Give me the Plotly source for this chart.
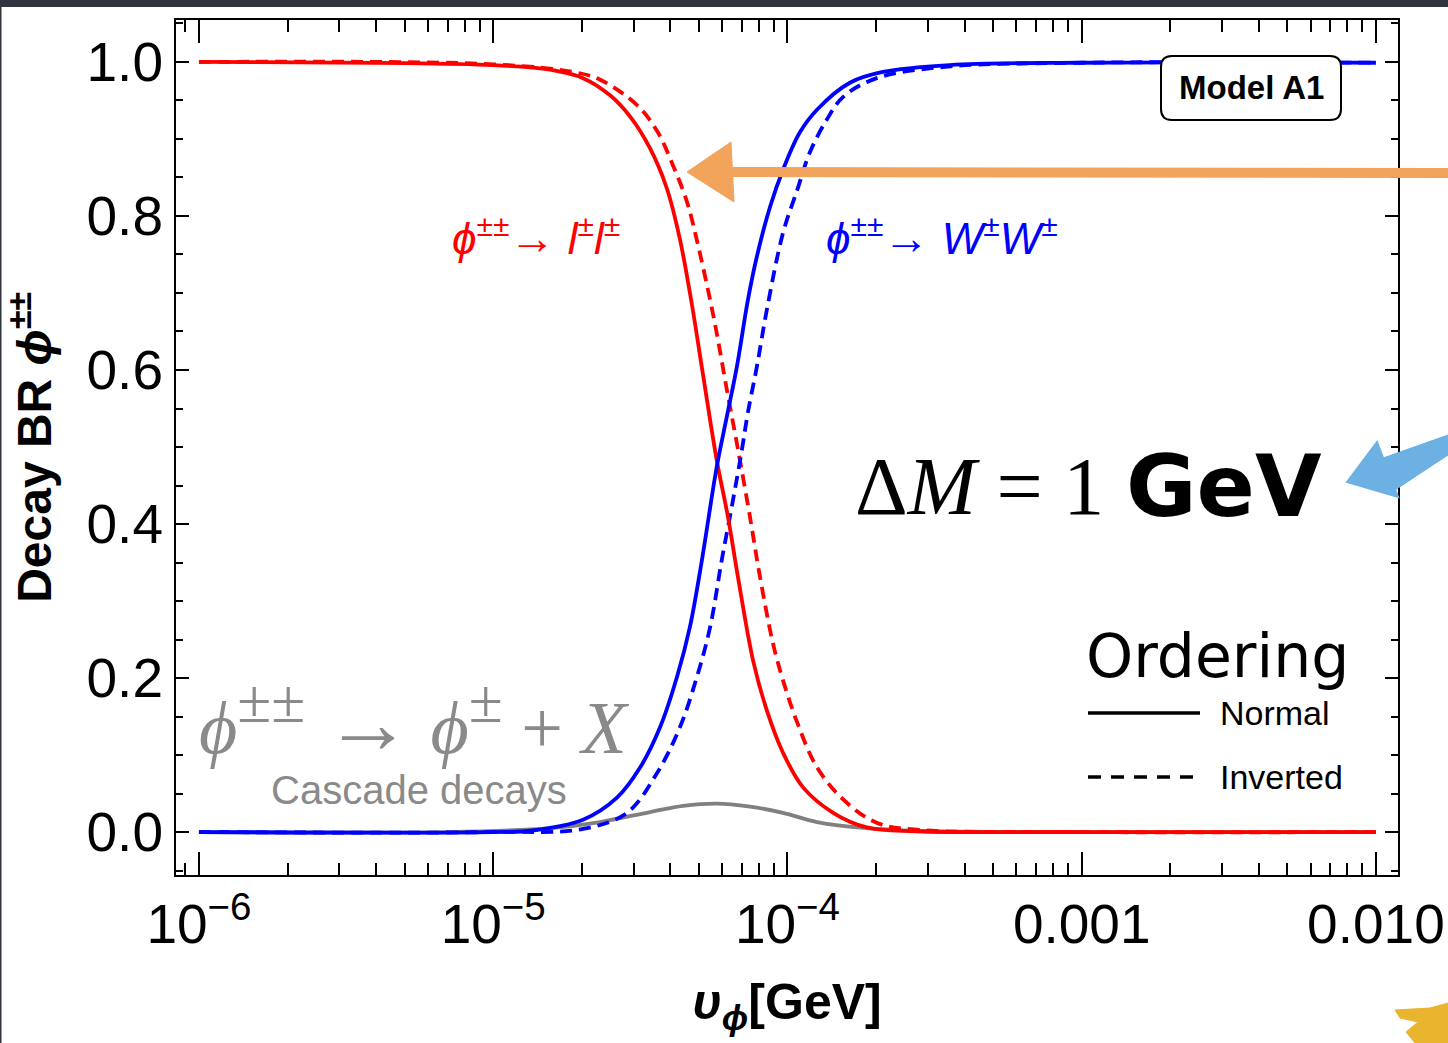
import plotly.graph_objects as go

# ---------------- data ----------------
v_ll_normal = [1e-6, 1e-5, 1.56e-5, 2.02e-5, 2.49e-5, 2.92e-5, 3.41e-5, 3.89e-5, 4.31e-5, 4.73e-5,
               5.16e-5, 5.75e-5, 6.28e-5, 6.79e-5, 7.64e-5, 8.51e-5, 9.66e-5, 1.13e-4,
               1.43e-4, 1.86e-4, 2.75e-4, 1e-3, 1e-2]
br_ll_normal = [1.0, 0.996, 0.99, 0.979, 0.957, 0.929, 0.888, 0.836, 0.77, 0.686,
                0.595, 0.483, 0.409, 0.331, 0.223, 0.158, 0.103, 0.058,
                0.025, 0.006, 0.001, 0.0, 0.0]

v_ll_inverted = [1e-6, 1e-5, 1.87e-5, 2.31e-5, 3.08e-5, 3.61e-5, 4.08e-5, 4.55e-5, 4.92e-5, 5.46e-5,
                 5.75e-5, 6.22e-5, 6.79e-5, 7.46e-5, 8.07e-5, 8.93e-5, 9.66e-5, 1.08e-4,
                 1.26e-4, 1.55e-4, 2.01e-4, 2.75e-4, 1e-3, 1e-2]
br_ll_inverted = [1.0, 0.997, 0.987, 0.977, 0.944, 0.910, 0.866, 0.819, 0.769, 0.691,
                  0.648, 0.575, 0.497, 0.409, 0.331, 0.245, 0.197, 0.142,
                  0.084, 0.042, 0.012, 0.003, 0.0, 0.0]

v_ww_normal = [1e-6, 1e-5, 1.36e-5, 2.02e-5, 2.64e-5, 3.16e-5, 3.69e-5, 4.21e-5, 4.66e-5, 5.12e-5,
               5.75e-5, 6.22e-5, 6.73e-5, 7.34e-5, 7.87e-5, 8.73e-5, 9.66e-5, 1.10e-4,
               1.26e-4, 1.63e-4, 2.11e-4, 3.56e-4, 1e-3, 1e-2]
br_ww_normal = [0.0, 0.0, 0.002, 0.016, 0.045, 0.084, 0.136, 0.201, 0.266, 0.353,
                0.474, 0.539, 0.604, 0.691, 0.747, 0.812, 0.860, 0.908,
                0.938, 0.973, 0.987, 0.996, 0.999, 0.999]

v_ww_inverted = [1e-6, 1e-5, 2.02e-5, 2.85e-5, 3.61e-5, 4.31e-5, 4.92e-5, 5.46e-5, 5.98e-5, 6.53e-5,
                 7.00e-5, 7.34e-5, 7.87e-5, 8.51e-5, 9.66e-5, 1.08e-4, 1.19e-4, 1.36e-4,
                 1.55e-4, 2.01e-4, 3.5e-4, 1e-3, 1e-2]
br_ww_inverted = [0.0, 0.0, 0.004, 0.025, 0.077, 0.136, 0.201, 0.266, 0.353, 0.431,
                  0.496, 0.545, 0.604, 0.678, 0.778, 0.834, 0.882, 0.925,
                  0.955, 0.979, 0.994, 0.999, 0.999]

v_cascade = [1e-6, 7.13e-6, 1.56e-5, 2.31e-5, 3.41e-5, 4.42e-5, 5.75e-5, 7.46e-5, 9.66e-5,
             1.26e-4, 1.86e-4, 3.12e-4, 1e-3, 1e-2]
br_cascade = [0.0, 0.0, 0.005, 0.013, 0.026, 0.034, 0.037, 0.033, 0.025,
              0.013, 0.005, 0.001, 0.0, 0.0]

x_tick_vals = [1e-6, 1e-5, 1e-4, 1e-3, 1e-2]
x_tick_text = ["10<sup>−6</sup>", "10<sup>−5</sup>", "10<sup>−4</sup>", "0.001", "0.010"]
x_minor_vals = [9e-7] + [m * 10.0 ** e for e in (-6, -5, -4, -3) for m in range(2, 10)]

# ---------------- figure ----------------
W, H = 1448, 1043
L, R, T, B = 176, 50, 20, 168
PW, PH = W - L - R, H - T - B


def px(x):
    return (x - L) / PW


def py(y):
    return (H - B - y) / PH


RED, BLUE, GRAY = "#ff0000", "#0000ff", "#808080"
LW = 3.8
DASH = "12px,7px"
SM = 1.0

fig = go.Figure()
fig.add_trace(go.Scatter(x=v_cascade, y=br_cascade, mode="lines", name="cascade",
                         line=dict(color=GRAY, width=LW, shape="spline", smoothing=SM)))
fig.add_trace(go.Scatter(x=v_ll_inverted, y=br_ll_inverted, mode="lines", name="ll inverted",
                         line=dict(color=RED, width=LW, dash=DASH, shape="spline", smoothing=SM)))
fig.add_trace(go.Scatter(x=v_ww_inverted, y=br_ww_inverted, mode="lines", name="WW inverted",
                         line=dict(color=BLUE, width=LW, dash=DASH, shape="spline", smoothing=SM)))
fig.add_trace(go.Scatter(x=v_ll_normal, y=br_ll_normal, mode="lines", name="ll normal",
                         line=dict(color=RED, width=LW, shape="spline", smoothing=SM)))
fig.add_trace(go.Scatter(x=v_ww_normal, y=br_ww_normal, mode="lines", name="WW normal",
                         line=dict(color=BLUE, width=LW, shape="spline", smoothing=SM)))

SANS = "Liberation Sans, Arial, sans-serif"
SERIF = "Liberation Serif, Times New Roman, serif"
TICKFONT = dict(family=SANS, size=55, color="black")

fig.update_xaxes(
    type="log", range=[-6.078, -1.925], automargin=False,
    showline=True, linecolor="black", linewidth=2, mirror="ticks",
    ticks="inside", ticklen=23, tickwidth=2, tickcolor="black",
    tickmode="array", tickvals=x_tick_vals, ticktext=x_tick_text,
    tickfont=TICKFONT, showgrid=False, zeroline=False,
    minor=dict(tickmode="array", tickvals=x_minor_vals, ticks="inside", ticklen=12,
               tickwidth=2, tickcolor="black", showgrid=False),
    title=dict(text="<b><i>υ</i><sub><i>ϕ</i></sub>[GeV]</b>", standoff=30,
               font=dict(family=SANS, size=50, color="black")),
)
fig.update_yaxes(
    range=[-0.0558, 1.0545], automargin=False,
    showline=True, linecolor="black", linewidth=2, mirror="ticks",
    ticks="inside", ticklen=13, tickwidth=2, tickcolor="black",
    tick0=0, dtick=0.2, tickformat=".1f",
    tickfont=TICKFONT, showgrid=False, zeroline=False,
    minor=dict(dtick=0.05, ticks="inside", ticklen=7, tickwidth=2, tickcolor="black",
               showgrid=False),
    title=dict(text="<b>Decay BR <i>ϕ</i><sup>±±</sup></b>", standoff=20,
               font=dict(family=SANS, size=48, color="black")),
)

shapes = []
# slide background edges
DARK = "#30343f"
shapes.append(dict(type="rect", xref="paper", yref="paper", x0=px(0), x1=px(W), y0=py(7), y1=py(0),
                   fillcolor=DARK, line=dict(width=0), layer="above"))
shapes.append(dict(type="rect", xref="paper", yref="paper", x0=px(0), x1=px(1.5), y0=py(H), y1=py(0),
                   fillcolor=DARK, line=dict(width=0), layer="above"))

# rounded box for "Model A1"
bx0, bx1, by0, by1 = 1161, 1341, 56, 120
r = 11
path = (f"M {px(bx0 + r)} {py(by0)} L {px(bx1 - r)} {py(by0)} "
        f"Q {px(bx1)} {py(by0)} {px(bx1)} {py(by0 + r)} L {px(bx1)} {py(by1 - r)} "
        f"Q {px(bx1)} {py(by1)} {px(bx1 - r)} {py(by1)} L {px(bx0 + r)} {py(by1)} "
        f"Q {px(bx0)} {py(by1)} {px(bx0)} {py(by1 - r)} L {px(bx0)} {py(by0 + r)} "
        f"Q {px(bx0)} {py(by0)} {px(bx0 + r)} {py(by0)} Z")
shapes.append(dict(type="path", xref="paper", yref="paper", path=path, fillcolor="white",
                   line=dict(color="black", width=2), layer="above"))

# orange hand-drawn arrow
ORANGE = "#f2a35c"
shapes.append(dict(type="line", xref="paper", yref="paper", x0=px(728), x1=px(W), y0=py(172), y1=py(173),
                   line=dict(color=ORANGE, width=10), layer="above"))
shapes.append(dict(type="path", xref="paper", yref="paper",
                   path=f"M {px(687)} {py(172)} L {px(731)} {py(142)} L {px(734)} {py(202)} Z",
                   fillcolor=ORANGE, line=dict(color=ORANGE, width=1), layer="above"))

# light-blue arrow
LBLUE = "#6cb0e4"
shapes.append(dict(type="path", xref="paper", yref="paper",
                   path=f"M {px(1383)} {py(458)} L {px(W)} {py(435)} L {px(W)} {py(455)} L {px(1392)} {py(492)} Z",
                   fillcolor=LBLUE, line=dict(color=LBLUE, width=1), layer="above"))
shapes.append(dict(type="path", xref="paper", yref="paper",
                   path=f"M {px(1347)} {py(482)} L {px(1377)} {py(442)} L {px(1398)} {py(497)} Z",
                   fillcolor=LBLUE, line=dict(color=LBLUE, width=2), layer="above"))

# yellow scribble bottom right
YEL = "#e9b52e"
shapes.append(dict(type="path", xref="paper", yref="paper",
                   path=(f"M {px(1395)} {py(1010)} L {px(1430)} {py(1008)} L {px(W)} {py(1003)} "
                         f"L {px(W)} {py(H)} L {px(1415)} {py(H)} L {px(1406)} {py(1032)} "
                         f"L {px(1418)} {py(1022)} L {px(1400)} {py(1018)} Z"),
                   fillcolor=YEL, line=dict(color=YEL, width=1), layer="above"))

# legend sample lines
shapes.append(dict(type="line", xref="paper", yref="paper", x0=px(1088), x1=px(1200), y0=py(713), y1=py(713),
                   line=dict(color="black", width=3.5), layer="above"))
shapes.append(dict(type="line", xref="paper", yref="paper", x0=px(1088), x1=px(1196), y0=py(777), y1=py(777),
                   line=dict(color="black", width=3.5, dash="13px,10px"), layer="above"))

fig.update_layout(shapes=shapes)

ann = []


def A(x, y, text, size, color="black", family=SANS, xanchor="left", yanchor="middle"):
    ann.append(dict(x=px(x), y=py(y), xref="paper", yref="paper", text=text, showarrow=False,
                    xanchor=xanchor, yanchor=yanchor,
                    font=dict(family=family, size=size, color=color)))


NB = "\u00a0"


def sup_s(t, s):
    return f"<sup><span style='font-size:{s}px'>{t}</span></sup>"


A(450, 236, f"<i>ϕ</i>{sup_s('±±', 30)}<span style='font-size:46px'>→</span>{NB}<i>l</i>{sup_s('±', 30)}<i>l</i>{sup_s('±', 30)}", 44, RED)
A(824, 236, f"<i>ϕ</i>{sup_s('±±', 30)}<span style='font-size:46px'>→</span>{NB}<i>W</i>{sup_s('±', 30)}<i>W</i>{sup_s('±', 30)}", 44, BLUE)
A(197, 719, f"<i>ϕ</i>{sup_s('±±', 62)}{NB}<span style='font-size:88px'>→</span>{NB}<i>ϕ</i>{sup_s('±', 62)}{NB}+{NB}<i>X</i>", 74, "#8a8a8a", SERIF)
A(419, 790, "Cascade decays", 40, "#8a8a8a", SANS, xanchor="center")
A(853, 486, f"Δ<i>M</i>{NB}={NB}1", 82, "black", SERIF)
A(1124, 486, "<b>GeV</b>", 86, "black", "DejaVu Sans, sans-serif")
A(1084, 656, "Ordering", 60, "black", "DejaVu Sans, sans-serif")
A(1218, 713, "Normal", 34, "black", SANS)
A(1218, 777, "Inverted", 34, "black", SANS)
A(1251, 88, "<b>Model A1</b>", 33, "black", SANS, xanchor="center")

fig.update_layout(
    annotations=ann,
    width=W, height=H,
    margin=dict(l=L, r=R, t=T, b=B, pad=0),
    paper_bgcolor="white", plot_bgcolor="white",
    showlegend=False,
)

fig.write_html("out.html")
